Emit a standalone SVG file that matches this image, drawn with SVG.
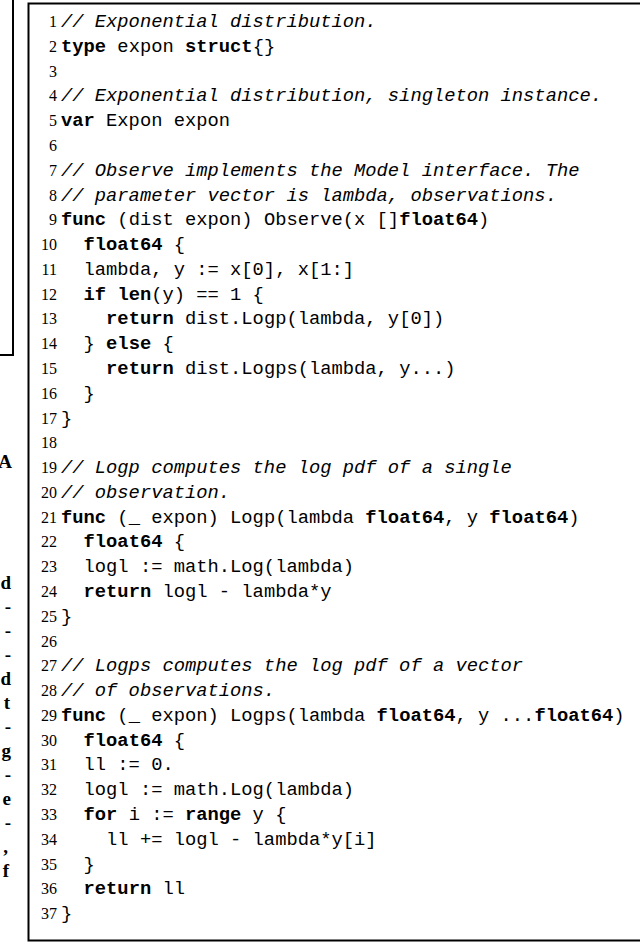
<svg xmlns="http://www.w3.org/2000/svg" width="640" height="946" viewBox="0 0 640 946">
<style>
.c{font-family:"Liberation Mono","DejaVu Sans Mono",monospace;font-size:18.8px;fill:#000;white-space:pre}
.n{font-family:"Liberation Serif","DejaVu Serif",serif;font-size:16px;fill:#000;text-anchor:end}
.i{font-style:italic}
.b{font-weight:bold}
.f{font-family:"Liberation Serif",serif;font-size:19px;font-weight:bold;fill:#000;text-anchor:end}
</style>
<rect width="640" height="946" fill="#fff"/>
<g id="leftfragment">
<polyline points="0,355 13,355 13,0" fill="none" stroke="#000" stroke-width="2"/>
<text class="f" x="12" y="468">A</text>
<text class="f" x="11" y="589">d</text>
<text class="f" x="11" y="613">-</text>
<text class="f" x="11" y="637">-</text>
<text class="f" x="11" y="661">-</text>
<text class="f" x="11" y="685">d</text>
<text class="f" x="10" y="709">t</text>
<text class="f" x="11" y="733">-</text>
<text class="f" x="11" y="757">g</text>
<text class="f" x="11" y="781">-</text>
<text class="f" x="11" y="805">e</text>
<text class="f" x="11" y="829">-</text>
<text class="f" x="8" y="853">,</text>
<text class="f" x="9" y="877">f</text>
</g>
<g id="listing">
<rect x="28.5" y="3.5" width="620" height="937" fill="none" stroke="#000" stroke-width="2"/>
<g id="linenumbers">
<text class="n" x="57" y="27">1</text><text class="n" x="57" y="52">2</text><text class="n" x="57" y="77">3</text><text class="n" x="57" y="101">4</text><text class="n" x="57" y="126">5</text><text class="n" x="57" y="151">6</text><text class="n" x="57" y="176">7</text><text class="n" x="57" y="201">8</text><text class="n" x="57" y="225">9</text><text class="n" x="57" y="250">10</text><text class="n" x="57" y="275">11</text><text class="n" x="57" y="300">12</text><text class="n" x="57" y="324">13</text><text class="n" x="57" y="349">14</text><text class="n" x="57" y="374">15</text><text class="n" x="57" y="399">16</text><text class="n" x="57" y="424">17</text><text class="n" x="57" y="448">18</text><text class="n" x="57" y="473">19</text><text class="n" x="57" y="498">20</text><text class="n" x="57" y="523">21</text><text class="n" x="57" y="547">22</text><text class="n" x="57" y="572">23</text><text class="n" x="57" y="597">24</text><text class="n" x="57" y="622">25</text><text class="n" x="57" y="647">26</text><text class="n" x="57" y="671">27</text><text class="n" x="57" y="696">28</text><text class="n" x="57" y="721">29</text><text class="n" x="57" y="746">30</text><text class="n" x="57" y="770">31</text><text class="n" x="57" y="795">32</text><text class="n" x="57" y="820">33</text><text class="n" x="57" y="845">34</text><text class="n" x="57" y="870">35</text><text class="n" x="57" y="894">36</text><text class="n" x="57" y="919">37</text>
</g>
<g id="code">
<text class="c i" x="61" y="27">// Exponential distribution.</text>
<text class="c" x="61" y="52"><tspan class="b">type</tspan> expon <tspan class="b">struct</tspan>{}</text>
<text class="c i" x="61" y="101">// Exponential distribution, singleton instance.</text>
<text class="c" x="61" y="126"><tspan class="b">var</tspan> Expon expon</text>
<text class="c i" x="61" y="176">// Observe implements the Model interface. The</text>
<text class="c i" x="61" y="201">// parameter vector is lambda, observations.</text>
<text class="c" x="61" y="225"><tspan class="b">func</tspan> (dist expon) Observe(x []<tspan class="b">float64</tspan>)</text>
<text class="c" x="61" y="250">  <tspan class="b">float64</tspan> {</text>
<text class="c" x="61" y="275">  lambda, y := x[0], x[1:]</text>
<text class="c" x="61" y="300">  <tspan class="b">if</tspan> <tspan class="b">len</tspan>(y) == 1 {</text>
<text class="c" x="61" y="324">    <tspan class="b">return</tspan> dist.Logp(lambda, y[0])</text>
<text class="c" x="61" y="349">  } <tspan class="b">else</tspan> {</text>
<text class="c" x="61" y="374">    <tspan class="b">return</tspan> dist.Logps(lambda, y...)</text>
<text class="c" x="61" y="399">  }</text>
<text class="c" x="61" y="424">}</text>
<text class="c i" x="61" y="473">// Logp computes the log pdf of a single</text>
<text class="c i" x="61" y="498">// observation.</text>
<text class="c" x="61" y="523"><tspan class="b">func</tspan> (_ expon) Logp(lambda <tspan class="b">float64</tspan>, y <tspan class="b">float64</tspan>)</text>
<text class="c" x="61" y="547">  <tspan class="b">float64</tspan> {</text>
<text class="c" x="61" y="572">  logl := math.Log(lambda)</text>
<text class="c" x="61" y="597">  <tspan class="b">return</tspan> logl - lambda*y</text>
<text class="c" x="61" y="622">}</text>
<text class="c i" x="61" y="671">// Logps computes the log pdf of a vector</text>
<text class="c i" x="61" y="696">// of observations.</text>
<text class="c" x="61" y="721"><tspan class="b">func</tspan> (_ expon) Logps(lambda <tspan class="b">float64</tspan>, y ...<tspan class="b">float64</tspan>)</text>
<text class="c" x="61" y="746">  <tspan class="b">float64</tspan> {</text>
<text class="c" x="61" y="770">  ll := 0.</text>
<text class="c" x="61" y="795">  logl := math.Log(lambda)</text>
<text class="c" x="61" y="820">  <tspan class="b">for</tspan> i := <tspan class="b">range</tspan> y {</text>
<text class="c" x="61" y="845">    ll += logl - lambda*y[i]</text>
<text class="c" x="61" y="870">  }</text>
<text class="c" x="61" y="894">  <tspan class="b">return</tspan> ll</text>
<text class="c" x="61" y="919">}</text>
</g>
</g>
</svg>
